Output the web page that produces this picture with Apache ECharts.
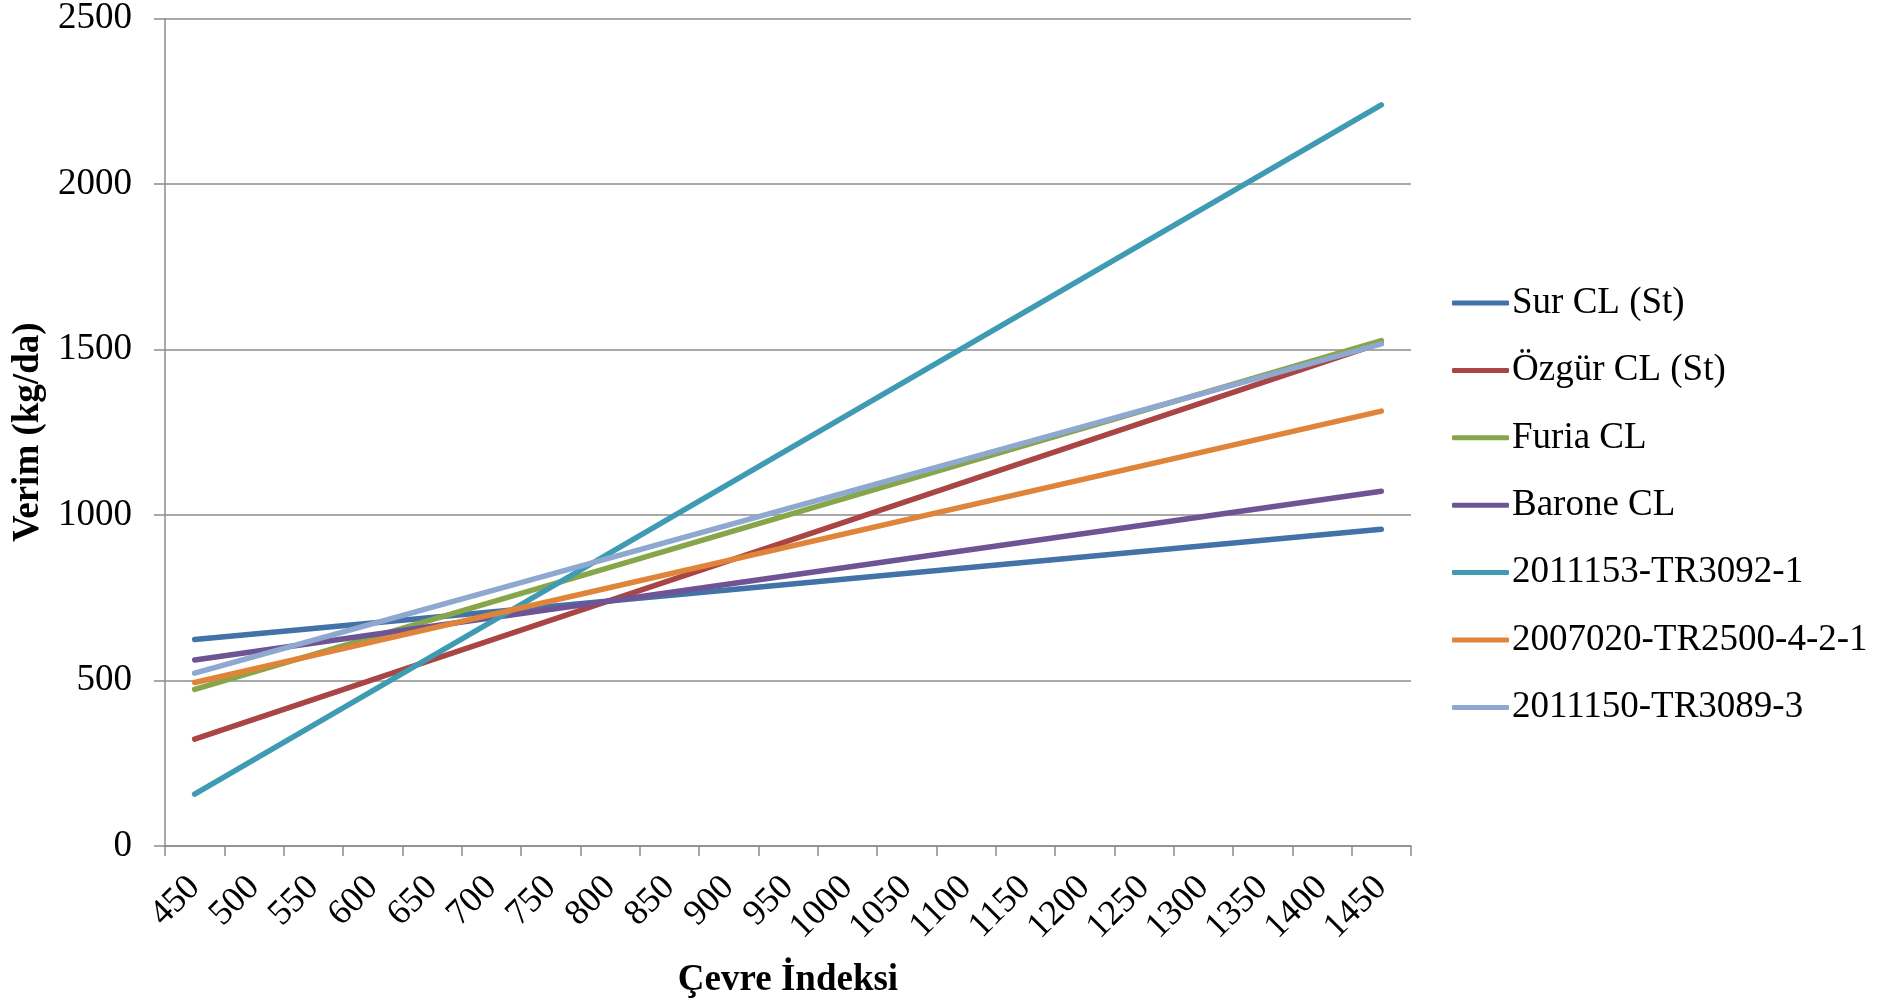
<!DOCTYPE html>
<html>
<head>
<meta charset="utf-8">
<script src="https://cdn.jsdelivr.net/npm/echarts@6/dist/echarts.min.js"></script>
<style>
html,body{margin:0;padding:0;background:#fff;}
#chart{width:1898px;height:1006px;}
</style>
</head>
<body>
<div id="chart"></div>
<script>
// X categories (Çevre İndeksi)
const categories = ['450','500','550','600','650','700','750','800','850','900','950','1000','1050','1100','1150','1200','1250','1300','1350','1400','1450'];
// Y tick labels
const yTicks = [0, 500, 1000, 1500, 2000, 2500];

// Series names
const seriesNames = ['Sur CL (St)','Özgür CL (St)','Furia CL','Barone CL','2011153-TR3092-1','2007020-TR2500-4-2-1','2011150-TR3089-3'];

// Values read at the first (450) and last (1450) categories; lines are straight between them
const surCL      = [624, 957];
const ozgurCL    = [323, 1520];
const furiaCL    = [473, 1527];
const baroneCL   = [562, 1072];
const tr3092     = [157, 2239];
const tr2500     = [494, 1314];
const tr3089     = [522, 1517];

const seriesValues = [surCL, ozgurCL, furiaCL, baroneCL, tr3092, tr2500, tr3089];
const colors = ['#4372A8','#A94545','#87A64A','#6E5494','#3F9BB4','#E0843A','#8EA8D0'];

const FONT = "'Liberation Serif','Times New Roman',serif";

function toCategoryData(pair){
  return categories.map((c,i)=> i===0 ? pair[0] : (i===categories.length-1 ? pair[1] : null));
}

const chart = echarts.init(document.getElementById('chart'), null, {renderer:'canvas'});
chart.setOption({
  animation:false,
  backgroundColor:'#ffffff',
  grid:{left:165, right:487, top:17, bottom:160, containLabel:false},
  legend:{
    orient:'vertical',
    left:1447,
    top:278,
    icon:'roundRect',
    itemWidth:57,
    itemHeight:5,
    itemGap:27.4,
    textStyle:{fontFamily:FONT, fontSize:37, color:'#000', lineHeight:40, padding:[0,0,0,-2]},
    data:seriesNames
  },
  xAxis:{
    type:'category',
    data:categories,
    boundaryGap:true,
    name:'Çevre İndeksi',
    nameLocation:'middle',
    nameGap:116,
    nameTextStyle:{fontFamily:FONT, fontSize:37, fontWeight:'bold', color:'#000'},
    axisLine:{show:true, lineStyle:{color:'#8c8c8c', width:1.5}},
    axisTick:{show:true, length:10, lineStyle:{color:'#8c8c8c', width:1.5}},
    axisLabel:{rotate:45, interval:0, margin:36, fontFamily:FONT, fontSize:36, color:'#000'},
    splitLine:{show:false}
  },
  yAxis:{
    type:'value',
    min:yTicks[0],
    max:yTicks[yTicks.length-1],
    interval:500,
    name:'Verim (kg/da)',
    nameLocation:'middle',
    nameRotate:90,
    nameGap:109,
    nameTextStyle:{fontFamily:FONT, fontSize:37, fontWeight:'bold', color:'#000'},
    axisLine:{show:true, lineStyle:{color:'#8c8c8c', width:1.5}},
    axisTick:{show:true, inside:false, length:11, lineStyle:{color:'#8c8c8c', width:1.5}},
    axisLabel:{margin:33, fontFamily:FONT, fontSize:37, color:'#000', formatter:function(v){return String(v);}},
    splitLine:{show:true, lineStyle:{color:'#8c8c8c', width:1.5}}
  },
  series: seriesNames.map((n,i)=>({
    name:n,
    type:'line',
    data:toCategoryData(seriesValues[i]),
    connectNulls:true,
    showSymbol:false,
    symbol:'none',
    color:colors[i],
    lineStyle:{width:5.5, color:colors[i], cap:'round'},
    itemStyle:{color:colors[i]}
  }))
});
</script>
</body>
</html>
